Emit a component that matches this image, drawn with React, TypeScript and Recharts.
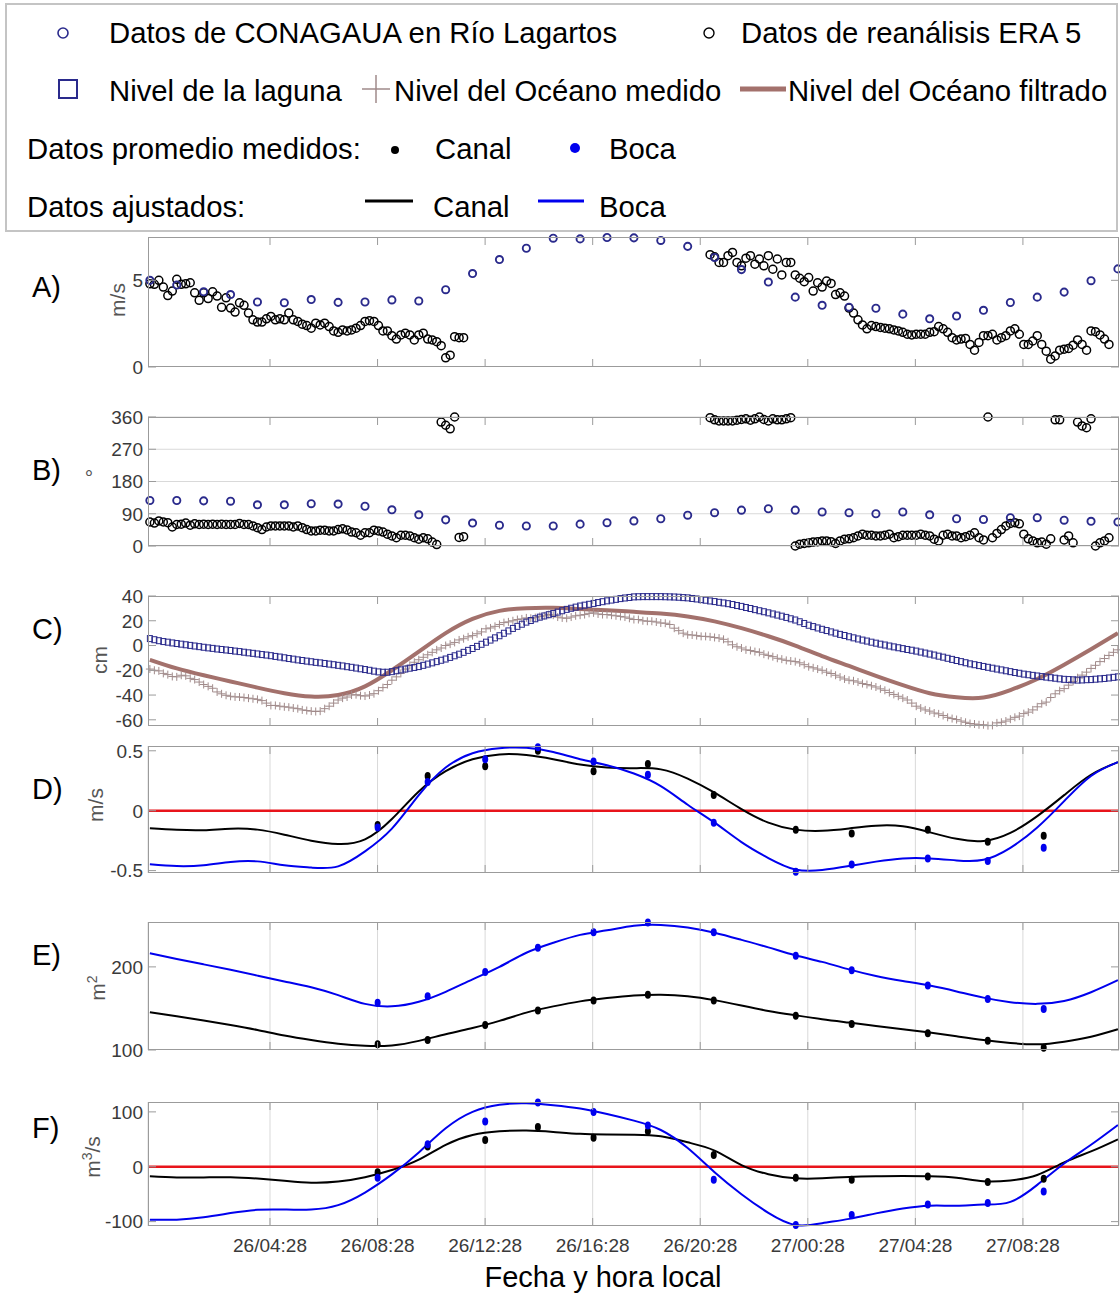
import React from 'react';
import {
  ComposedChart,
  Scatter,
  Line,
  XAxis,
  YAxis,
  CartesianGrid,
  ReferenceLine,
} from 'recharts';

const FONT = '"Liberation Sans", Arial, Helvetica, sans-serif';
const NAVY = '#2a2a8c';
const BOX = '#9b9b9b';
const GRID = '#d9d9d9';
const BLUE = '#0000ee';
const BROWN = '#a3716c';
const CROSS = '#a08a8a';
const RED = '#e8141b';
const TICK_TXT = '#3a3a3a';

// time axis, hours since 26/00:00
const X_DOMAIN: [number, number] = [-0.07, 36.04];
const X_TICKS = [4.467, 8.467, 12.467, 16.467, 20.467, 24.467, 28.467, 32.467];
const X_TICK_LABELS = ['26/04:28', '26/08:28', '26/12:28', '26/16:28', '26/20:28', '27/00:28', '27/04:28', '27/08:28'];

// A) wind speed, CONAGUA hourly (m/s)
const conaguaSpeed = [5.0, 4.73, 4.34, 4.18, 3.75, 3.71, 3.89, 3.73, 3.75, 3.87, 3.81, 4.46, 5.39, 6.2, 6.85, 7.43, 7.39, 7.47, 7.45, 7.3, 6.96, 6.32, 5.62, 4.9, 4.03, 3.56, 3.45, 3.39, 3.05, 2.78, 2.94, 3.27, 3.72, 4.03, 4.32, 4.98, 5.66];
// ERA5 every 10 min, two stretches
const ERA5_SEG2_START = 125;
const era5Speed1 = [4.8, 4.77, 5.0, 4.61, 4.12, 4.38, 5.06, 4.77, 4.8, 4.86, 4.28, 3.85, 4.28, 3.95, 4.34, 4.09, 3.44, 3.99, 3.4, 3.17, 3.7, 3.56, 3.11, 2.72, 2.59, 2.59, 2.78, 2.92, 2.72, 2.78, 2.72, 3.11, 2.72, 2.63, 2.47, 2.39, 2.24, 2.53, 2.43, 2.53, 2.33, 2.08, 2.0, 2.14, 2.08, 2.14, 2.24, 2.39, 2.63, 2.67, 2.63, 2.39, 2.08, 2.08, 1.81, 1.61, 1.85, 1.95, 1.85, 1.56, 1.85, 1.95, 1.61, 1.56, 1.46, 1.23, 0.53, 0.68, 1.75, 1.69, 1.69];
const era5Speed2 = [6.48, 6.36, 6.03, 6.03, 6.42, 6.61, 6.03, 5.84, 6.28, 6.42, 5.93, 6.23, 5.84, 6.42, 5.64, 6.23, 5.31, 6.03, 6.03, 5.31, 5.12, 4.92, 5.16, 4.38, 4.86, 4.61, 4.96, 4.82, 4.18, 4.28, 4.09, 3.4, 3.11, 2.72, 2.43, 2.2, 2.39, 2.33, 2.28, 2.24, 2.2, 2.14, 2.08, 2.0, 1.89, 1.85, 1.89, 1.89, 1.89, 2.0, 2.04, 2.33, 2.2, 2.0, 1.69, 1.56, 1.61, 1.65, 1.3, 0.97, 1.42, 1.81, 1.81, 1.89, 1.56, 1.69, 1.81, 2.08, 2.2, 1.89, 1.3, 1.3, 1.5, 1.81, 1.3, 0.91, 0.45, 0.64, 0.97, 1.03, 1.07, 1.26, 1.56, 1.3, 0.97, 2.08, 2.04, 1.85, 1.61, 1.3];

// B) wind direction (degrees)
const conaguaDir = [127, 127, 126, 125, 115, 115, 118, 117, 111, 101, 87, 73, 64, 58, 56, 56, 61, 65, 70, 76, 86, 93, 100, 104, 100, 95, 93, 90, 95, 87, 76, 74, 79, 79, 72, 69, 67];
const era5Dir1 = [67, 64, 70, 67, 65, 53, 60, 61, 64, 58, 62, 60, 61, 60, 61, 60, 61, 60, 60, 60, 63, 60, 60, 56, 51, 46, 53, 56, 56, 56, 56, 56, 53, 56, 51, 46, 42, 42, 44, 44, 42, 42, 46, 48, 45, 39, 37, 30, 37, 37, 44, 42, 39, 33, 28, 23, 30, 30, 28, 23, 19, 23, 20, 11, 4, 346, 337, 327, 360, 24, 26];
const era5Dir2 = [358, 352, 349, 349, 349, 349, 351, 353, 355, 351, 355, 360, 353, 349, 355, 352, 352, 355, 358, 0, 5, 7, 9, 11, 12, 14, 14, 12, 7, 14, 19, 20, 23, 28, 33, 30, 30, 28, 28, 30, 33, 23, 26, 30, 30, 30, 30, 33, 30, 28, 19, 14, 30, 33, 28, 28, 23, 26, 30, 37, 23, 17, 360, 23, 35, 46, 56, 63, 65, 62, 33, 20, 14, 9, 11, 5, 20, 352, 352, 17, 28, 9, 346, 335, 330, 355, 0, 9, 14, 23];

// C) water levels (cm), every 10 min
const lagoonLevel = [
  5.6, 4.7, 3.9, 3.2, 2.7, 2.1, 1.6, 1.1, 0.6, 0.1, -0.4, -0.9,
  -1.4, -1.9, -2.3, -2.8, -3.2, -3.6, -4.0, -4.5, -4.9, -5.4, -5.9, -6.3,
  -6.8, -7.3, -7.7, -8.2, -8.8, -9.3, -9.9, -10.5, -11.0, -11.6, -12.1, -12.6,
  -13.1, -13.6, -14.0, -14.5, -15.0, -15.5, -16.0, -16.5, -17.1, -17.6, -18.2, -18.8,
  -19.4, -20.0, -20.7, -21.3, -21.6, -21.6, -21.1, -20.4, -19.7, -19.0, -18.3, -17.7,
  -17.0, -16.0, -15.0, -14.0, -13.0, -11.9, -10.9, -9.6, -8.3, -7.0, -5.5, -3.9,
  -2.4, -0.7, 1.0, 2.7, 4.4, 6.2, 7.9, 9.9, 11.8, 13.8, 15.5, 17.2,
  18.9, 20.2, 21.6, 22.9, 23.9, 24.9, 25.9, 27.0, 28.1, 29.2, 30.1, 31.0,
  31.9, 32.6, 33.3, 34.0, 34.7, 35.4, 36.1, 36.7, 37.3, 37.9, 38.4, 38.8,
  39.3, 39.4, 39.5, 39.5, 39.5, 39.5, 39.5, 39.4, 39.3, 39.2, 39.0, 38.7,
  38.5, 38.0, 37.6, 37.1, 36.6, 36.0, 35.5, 34.9, 34.4, 33.8, 33.1, 32.3,
  31.6, 30.7, 29.9, 29.0, 28.1, 27.3, 26.4, 25.5, 24.6, 23.7, 22.7, 21.6,
  20.6, 19.2, 17.8, 16.4, 15.3, 14.2, 13.1, 12.1, 11.0, 10.0, 9.0, 8.1,
  7.1, 6.2, 5.3, 4.4, 3.6, 2.7, 1.9, 1.1, 0.4, -0.4, -1.1, -1.8,
  -2.5, -3.2, -3.8, -4.5, -5.3, -6.1, -6.9, -7.7, -8.6, -9.4, -10.3, -11.2,
  -12.1, -13.0, -13.9, -14.8, -15.5, -16.2, -16.9, -17.6, -18.3, -19.0, -19.7, -20.4,
  -21.1, -21.8, -22.4, -23.1, -23.6, -24.1, -24.6, -25.1, -25.5, -26.0, -26.4, -26.9,
  -27.3, -27.5, -27.7, -27.9, -27.8, -27.6, -27.5, -27.2, -26.9, -26.6, -26.2, -25.7,
  -25.3,
];
const oceanMeasured = [
  -19, -20, -20.5, -22.5, -23.5, -25, -25.3, -24, -24.5, -26.5, -27.5, -29.5,
  -31.5, -33, -34.5, -37.5, -39, -40.2, -41, -41.5, -41.6, -42, -42.5, -43,
  -43.5, -44.5, -46.5, -48.4, -48.4, -49, -49.5, -49.8, -50.5, -51, -52, -52.5,
  -53, -53.3, -53, -51, -49, -46.5, -44, -42.5, -41.6, -40, -39.7, -40.5,
  -40.8, -40, -38.9, -36.5, -34, -31.5, -28, -25.3, -22.5, -19, -16, -13.5,
  -11.5, -9.5, -7.5, -5.5, -3.5, -2, 0, 1.1, 2.5, 4.5, 5.5, 7,
  8, 9.5, 11, 13.5, 14.2, 15.5, 17, 18.5, 19.1, 20, 21, 21.5,
  22.3, 22, 22.5, 23.5, 24, 25, 24.5, 23, 22.3, 22, 23, 24,
  24.5, 25, 26, 26.4, 25.5, 25, 25, 24.5, 24, 23.5, 23, 22,
  21, 21, 20, 19.6, 19.6, 19, 18.2, 18, 17, 14, 12, 10,
  8.7, 8.5, 8, 7.4, 7.4, 7, 6.5, 6, 5, 3, 0.6, -1,
  -2, -3.5, -4, -4.9, -5.5, -7, -8, -9, -10.3, -11, -12, -12.5,
  -13, -14, -15.5, -17.1, -18, -19, -20, -21.5, -22.6, -24, -25.5, -27,
  -28, -28.5, -29.5, -30.7, -31.5, -32.5, -33.5, -35, -36.2, -38, -39.5, -41,
  -42.5, -44, -46.5, -49, -50.5, -52, -53, -54.5, -55.2, -56.5, -58, -59,
  -59.8, -61, -62, -63, -63.4, -64, -64, -64.7, -64.5, -62.5, -62, -61,
  -59.5, -58, -57, -55, -53.8, -52, -49.5, -47, -45.7, -42, -39, -36.5,
  -34.8, -32, -29, -26, -23.9, -21.5, -18.5, -16, -13, -10.5, -8, -5.5,
  -3.5,
];
// hourly
const oceanFiltered = [-11.5, -18.5, -24, -29, -34, -38.5, -41.2, -40, -33, -20, -5, 10, 21.5, 28, 30.2, 30.5, 29.5, 28.5, 27.2, 25.8, 23.5, 19.5, 14, 7.5, 0, -8.5, -16.5, -24.5, -32, -38.5, -41.8, -42, -36, -27, -15.5, -3, 10];

// D, E, F) fitted curves (hourly) and measured averages
const dCanalFit = [-0.147, -0.16, -0.163, -0.15, -0.158, -0.2, -0.25, -0.278, -0.24, -0.07, 0.16, 0.33, 0.43, 0.47, 0.465, 0.43, 0.385, 0.36, 0.355, 0.345, 0.268, 0.15, 0.013, -0.1, -0.158, -0.168, -0.148, -0.125, -0.13, -0.18, -0.235, -0.252, -0.185, -0.045, 0.13, 0.3, 0.405];
const dBocaFit = [-0.447, -0.462, -0.455, -0.428, -0.423, -0.455, -0.475, -0.465, -0.34, -0.15, 0.13, 0.36, 0.48, 0.522, 0.525, 0.49, 0.43, 0.38, 0.31, 0.205, 0.05, -0.1, -0.262, -0.395, -0.49, -0.495, -0.462, -0.425, -0.398, -0.398, -0.415, -0.41, -0.31, -0.14, 0.08, 0.29, 0.405];
const eCanalFit = [145.5, 140.5, 135.5, 130, 124, 117.5, 112, 107.5, 105, 105.5, 111, 119, 126.5, 135, 145, 152.5, 158.5, 162.5, 165.5, 166.5, 164.8, 160, 153.5, 147, 141.8, 137, 133, 129, 125, 121, 116.5, 112, 108.5, 106.8, 110, 116, 125];
const eBocaFit = [216.5, 209.5, 203, 196.5, 189.5, 182.5, 175.5, 166, 155.5, 152.5, 158, 170, 185, 200, 217, 229, 238.5, 244, 249.5, 250.5, 247.5, 241, 232.5, 223.5, 214, 206, 197, 189, 183, 177.5, 170.5, 163, 157.5, 155.5, 159, 169.5, 184];
const fCanalFit = [-17.5, -19.5, -19.5, -19, -21.5, -25.5, -29, -27, -19, -6, 13, 40, 58, 64.5, 66, 63.5, 60, 58.8, 58.2, 55.5, 44.5, 29.5, 3, -13.5, -21, -21, -18.5, -17.3, -17, -17.5, -20, -26.5, -25, -15, 8, 28, 50];
const fBocaFit = [-96.5, -96.5, -92, -84.5, -78.5, -78, -78, -70, -47, -14, 26, 70, 100, 113, 115.5, 112, 106, 96, 84, 67, 34, -10, -50, -84, -106, -103, -95, -85, -76, -71, -71, -69, -64, -33, 6, 40, 76];

const measHours = [8.47, 10.33, 12.47, 14.43, 16.5, 18.52, 20.97, 24.02, 26.1, 28.93, 31.16, 33.24];
const dCanalMeas = [-0.12, 0.29, 0.37, 0.5, 0.33, 0.39, 0.13, -0.16, -0.19, -0.16, -0.26, -0.21];
const dBocaMeas = [-0.14, 0.24, 0.43, 0.53, 0.41, 0.3, -0.1, -0.51, -0.45, -0.4, -0.42, -0.31];
const eCanalMeas = [106.9, 112, 130, 147.4, 159.5, 166.4, 159.5, 141.3, 131.2, 120.2, 111, 102.8];
const eBocaMeas = [156.7, 164.8, 193.9, 223, 241.7, 253.5, 241.7, 213.4, 196, 177.7, 161.5, 149.4];
const fCanalMeas = [-10, 37, 48.8, 72.4, 52.9, 64.7, 21.2, -20, -23.5, -17.6, -27.6, -21.8];
const fBocaMeas = [-20, 41.2, 82.4, 117, 100, 75.3, -23.5, -106, -88, -68.8, -65.9, -45.3];

type Pt = { t: number; v: number };
const everyHour = (vs: number[]): Pt[] => vs.map((v, i) => ({ t: i, v }));
const everyTenMin = (vs: number[], start = 0): Pt[] => vs.map((v, i) => ({ t: (start + i) / 6, v }));
const atHours = (ts: number[], vs: number[]): Pt[] => vs.map((v, i) => ({ t: ts[i], v }));

const TICK_LEN = 8;

const XTick = (props: any) => {
  const { x, y, payload, plotH, showLabel } = props;
  const label = X_TICK_LABELS[X_TICKS.indexOf(payload.value)];
  return (
    <g>
      <line x1={x} x2={x} y1={y} y2={y - TICK_LEN} stroke={BOX} />
      <line x1={x} x2={x} y1={y - plotH} y2={y - plotH + TICK_LEN} stroke={BOX} />
      {showLabel && (
        <text x={x} y={y + 26} textAnchor="middle" fontSize={19} fill={TICK_TXT} fontFamily={FONT}>
          {label}
        </text>
      )}
    </g>
  );
};

const YTick = (props: any) => {
  const { x, y, payload, fontSize } = props;
  return (
    <g>
      <line x1={x} x2={x + TICK_LEN} y1={y} y2={y} stroke={BOX} />
      <line x1={x + 971} x2={x + 971 - TICK_LEN} y1={y} y2={y} stroke={BOX} />
      <text x={x - 5} y={y} dy="0.36em" textAnchor="end" fontSize={fontSize} fill={TICK_TXT} fontFamily={FONT}>
        {String(payload.value)}
      </text>
    </g>
  );
};

const openCircle = (color: string, r: number, sw: number) => (p: any) => (
  <circle cx={p.cx} cy={p.cy} r={r} fill="none" stroke={color} strokeWidth={sw} />
);
const openSquare = (p: any) => (
  <rect x={p.cx - 2.5} y={p.cy - 3} width={5} height={6} fill="none" stroke={NAVY} strokeWidth={1} />
);
const plusMark = (p: any) => (
  <path d={`M${p.cx - 4},${p.cy}h8M${p.cx},${p.cy - 4}v8`} stroke={CROSS} strokeWidth={1} fill="none" />
);
const dot = (color: string) => (p: any) => <ellipse cx={p.cx} cy={p.cy} rx={3} ry={4} fill={color} />;

type PanelProps = {
  top: number;
  h: number;
  yDomain: [number, number];
  yTicks: number[];
  hGrid?: boolean;
  vGrid?: boolean;
  zeroLine?: boolean;
  xLabels?: boolean;
  tickFont?: number;
  children: React.ReactNode;
};

function Panel({ top, h, yDomain, yTicks, hGrid, vGrid, zeroLine, xLabels, tickFont = 19, children }: PanelProps) {
  const axisH = xLabels ? 40 : 10;
  return (
    <>
      <div style={{ position: 'absolute', left: 0, top: top - 10 }}>
        <ComposedChart width={1120} height={h + 10 + axisH} margin={{ top: 10, right: 1, bottom: 0, left: 108 }}>
          {(hGrid || vGrid) && <CartesianGrid horizontal={!!hGrid} vertical={!!vGrid} stroke={GRID} />}
          <XAxis
            type="number"
            dataKey="t"
            domain={X_DOMAIN}
            ticks={X_TICKS}
            interval={0}
            height={axisH}
            axisLine={false}
            tickLine={false}
            tickSize={0}
            tickMargin={0}
            tick={<XTick plotH={h} showLabel={!!xLabels} />}
          />
          <YAxis
            type="number"
            dataKey="v"
            domain={yDomain}
            ticks={yTicks}
            interval={0}
            width={40}
            axisLine={false}
            tickLine={false}
            tickSize={0}
            tickMargin={0}
            tick={<YTick fontSize={tickFont} />}
          />
          {zeroLine && <ReferenceLine y={0} stroke={RED} strokeWidth={2.5} />}
          {children}
        </ComposedChart>
      </div>
      <div
        style={{
          position: 'absolute',
          left: 148,
          top,
          width: 971,
          height: h,
          border: `1px solid ${BOX}`,
          boxSizing: 'border-box',
          pointerEvents: 'none',
        }}
      />
    </>
  );
}

const PanelLetter = ({ y, text }: { y: number; text: string }) => (
  <div style={{ position: 'absolute', left: 32, top: y - 17, height: 34, lineHeight: '34px', fontSize: 29 }}>{text}</div>
);

const AxisTitle = ({ x, y, children, rotate = true }: { x: number; y: number; children: React.ReactNode; rotate?: boolean }) => (
  <div
    style={{
      position: 'absolute',
      left: x,
      top: y,
      transform: `translate(-50%, -50%)${rotate ? ' rotate(-90deg)' : ''}`,
      fontSize: 21,
      color: '#555',
      whiteSpace: 'nowrap',
    }}
  >
    {children}
  </div>
);

const LegText = ({ x, y, children }: { x: number; y: number; children: React.ReactNode }) => (
  <div style={{ position: 'absolute', left: x, top: y - 17, height: 34, lineHeight: '34px', fontSize: 29.3, whiteSpace: 'nowrap' }}>
    {children}
  </div>
);

const LegMark = ({ x, y, w, h, children }: { x: number; y: number; w: number; h: number; children: React.ReactNode }) => (
  <svg style={{ position: 'absolute', left: x - w / 2, top: y - h / 2 }} width={w} height={h}>
    {children}
  </svg>
);

function LegendBox() {
  return (
    <>
      <div
        style={{
          position: 'absolute',
          left: 5,
          top: 3,
          width: 1113,
          height: 229,
          border: '2px solid #c4c4c4',
          boxSizing: 'border-box',
        }}
      />
      <LegMark x={63} y={33} w={16} h={16}>
        <circle cx={8} cy={8} r={5} fill="none" stroke={NAVY} strokeWidth={1.6} />
      </LegMark>
      <LegText x={109} y={33}>Datos de CONAGAUA en Río Lagartos</LegText>
      <LegMark x={709} y={33} w={16} h={16}>
        <circle cx={8} cy={8} r={5} fill="none" stroke="#000" strokeWidth={1.4} />
      </LegMark>
      <LegText x={741} y={33}>Datos de reanálisis ERA 5</LegText>

      <LegMark x={68} y={89} w={24} h={24}>
        <rect x={3} y={3} width={18} height={18} fill="none" stroke={NAVY} strokeWidth={2} />
      </LegMark>
      <LegText x={109} y={91}>Nivel de la laguna</LegText>
      <LegMark x={376} y={89} w={32} h={32}>
        <path d="M2,16h28M16,2v28" stroke={CROSS} strokeWidth={1.5} />
      </LegMark>
      <LegText x={394} y={91}>Nivel del Océano medido</LegText>
      <LegMark x={763} y={89} w={46} h={8}>
        <line x1={0} x2={46} y1={4} y2={4} stroke={BROWN} strokeWidth={5} />
      </LegMark>
      <LegText x={788} y={91}>Nivel del Océano filtrado</LegText>

      <LegText x={27} y={149}>Datos promedio medidos:</LegText>
      <LegMark x={395} y={150} w={12} h={12}>
        <circle cx={6} cy={6} r={4} fill="#000" />
      </LegMark>
      <LegText x={435} y={149}>Canal</LegText>
      <LegMark x={575} y={148} w={14} h={14}>
        <circle cx={7} cy={7} r={5} fill={BLUE} />
      </LegMark>
      <LegText x={609} y={149}>Boca</LegText>

      <LegText x={27} y={207}>Datos ajustados:</LegText>
      <LegMark x={389} y={201} w={48} h={6}>
        <line x1={0} x2={48} y1={3} y2={3} stroke="#000" strokeWidth={3} />
      </LegMark>
      <LegText x={433} y={207}>Canal</LegText>
      <LegMark x={561} y={201} w={46} h={6}>
        <line x1={0} x2={46} y1={3} y2={3} stroke={BLUE} strokeWidth={3} />
      </LegMark>
      <LegText x={599} y={207}>Boca</LegText>
    </>
  );
}

export default function App() {
  const fitHours = dCanalFit.map((_, i) => i);
  return (
    <div
      style={{
        position: 'absolute',
        left: 0,
        top: 0,
        width: 1120,
        height: 1293,
        background: '#fff',
        fontFamily: FONT,
        color: '#000',
        overflow: 'hidden',
      }}
    >
      <LegendBox />

      {/* A) wind speed */}
      <Panel top={237} h={130} yDomain={[0, 7.5]} yTicks={[0, 5]}>
        <Scatter data={everyTenMin(era5Speed1)} dataKey="v" shape={openCircle('#000', 4, 1.5)} isAnimationActive={false} />
        <Scatter data={everyTenMin(era5Speed2, ERA5_SEG2_START)} dataKey="v" shape={openCircle('#000', 4, 1.5)} isAnimationActive={false} />
        <Scatter data={everyHour(conaguaSpeed)} dataKey="v" shape={openCircle(NAVY, 3.6, 1.9)} isAnimationActive={false} />
      </Panel>

      {/* B) wind direction */}
      <Panel top={417} h={129} yDomain={[0, 360]} yTicks={[0, 90, 180, 270, 360]} hGrid>
        <Scatter data={everyTenMin(era5Dir1)} dataKey="v" shape={openCircle('#000', 4, 1.5)} isAnimationActive={false} />
        <Scatter data={everyTenMin(era5Dir2, ERA5_SEG2_START)} dataKey="v" shape={openCircle('#000', 4, 1.5)} isAnimationActive={false} />
        <Scatter data={everyHour(conaguaDir)} dataKey="v" shape={openCircle(NAVY, 3.6, 1.9)} isAnimationActive={false} />
      </Panel>

      {/* C) levels */}
      <Panel top={596} h={130} yDomain={[-65, 40]} yTicks={[-60, -40, -20, 0, 20, 40]}>
        <Scatter data={everyTenMin(oceanMeasured)} dataKey="v" shape={plusMark} isAnimationActive={false} />
        <Scatter data={everyTenMin(lagoonLevel)} dataKey="v" shape={openSquare} isAnimationActive={false} />
        <Line data={everyHour(oceanFiltered)} dataKey="v" type="natural" stroke={BROWN} strokeWidth={4} dot={false} activeDot={false} isAnimationActive={false} />
      </Panel>

      {/* D) velocity */}
      <Panel top={746} h={127} yDomain={[-0.52, 0.54]} yTicks={[-0.5, 0, 0.5]} vGrid zeroLine>
        <Line data={atHours(fitHours, dCanalFit)} dataKey="v" type="natural" stroke="#000" strokeWidth={2} dot={false} activeDot={false} isAnimationActive={false} />
        <Line data={atHours(fitHours, dBocaFit)} dataKey="v" type="natural" stroke={BLUE} strokeWidth={2} dot={false} activeDot={false} isAnimationActive={false} />
        <Scatter data={atHours(measHours, dCanalMeas)} dataKey="v" shape={dot('#000')} isAnimationActive={false} />
        <Scatter data={atHours(measHours, dBocaMeas)} dataKey="v" shape={dot(BLUE)} isAnimationActive={false} />
      </Panel>

      {/* E) area */}
      <Panel top={922} h={128} yDomain={[100, 254]} yTicks={[100, 200]} vGrid>
        <Line data={atHours(fitHours, eCanalFit)} dataKey="v" type="natural" stroke="#000" strokeWidth={2} dot={false} activeDot={false} isAnimationActive={false} />
        <Line data={atHours(fitHours, eBocaFit)} dataKey="v" type="natural" stroke={BLUE} strokeWidth={2} dot={false} activeDot={false} isAnimationActive={false} />
        <Scatter data={atHours(measHours, eCanalMeas)} dataKey="v" shape={dot('#000')} isAnimationActive={false} />
        <Scatter data={atHours(measHours, eBocaMeas)} dataKey="v" shape={dot(BLUE)} isAnimationActive={false} />
      </Panel>

      {/* F) discharge */}
      <Panel top={1102} h={124} yDomain={[-108, 118]} yTicks={[-100, 0, 100]} vGrid zeroLine xLabels>
        <Line data={atHours(fitHours, fCanalFit)} dataKey="v" type="natural" stroke="#000" strokeWidth={2} dot={false} activeDot={false} isAnimationActive={false} />
        <Line data={atHours(fitHours, fBocaFit)} dataKey="v" type="natural" stroke={BLUE} strokeWidth={2} dot={false} activeDot={false} isAnimationActive={false} />
        <Scatter data={atHours(measHours, fCanalMeas)} dataKey="v" shape={dot('#000')} isAnimationActive={false} />
        <Scatter data={atHours(measHours, fBocaMeas)} dataKey="v" shape={dot(BLUE)} isAnimationActive={false} />
      </Panel>

      <PanelLetter y={287} text="A)" />
      <PanelLetter y={470} text="B)" />
      <PanelLetter y={629} text="C)" />
      <PanelLetter y={789} text="D)" />
      <PanelLetter y={955} text="E)" />
      <PanelLetter y={1128} text="F)" />

      <AxisTitle x={118} y={300}>m/s</AxisTitle>
      <AxisTitle x={89} y={478} rotate={false}>°</AxisTitle>
      <AxisTitle x={100} y={660}>cm</AxisTitle>
      <AxisTitle x={96} y={805}>m/s</AxisTitle>
      <AxisTitle x={97} y={988}>
        m<sup style={{ fontSize: 14 }}>2</sup>
      </AxisTitle>
      <AxisTitle x={92} y={1157}>
        m<sup style={{ fontSize: 14 }}>3</sup>/s
      </AxisTitle>

      <div
        style={{
          position: 'absolute',
          left: 603,
          top: 1277,
          transform: 'translate(-50%, -50%)',
          fontSize: 29,
          whiteSpace: 'nowrap',
        }}
      >
        Fecha y hora local
      </div>
    </div>
  );
}
